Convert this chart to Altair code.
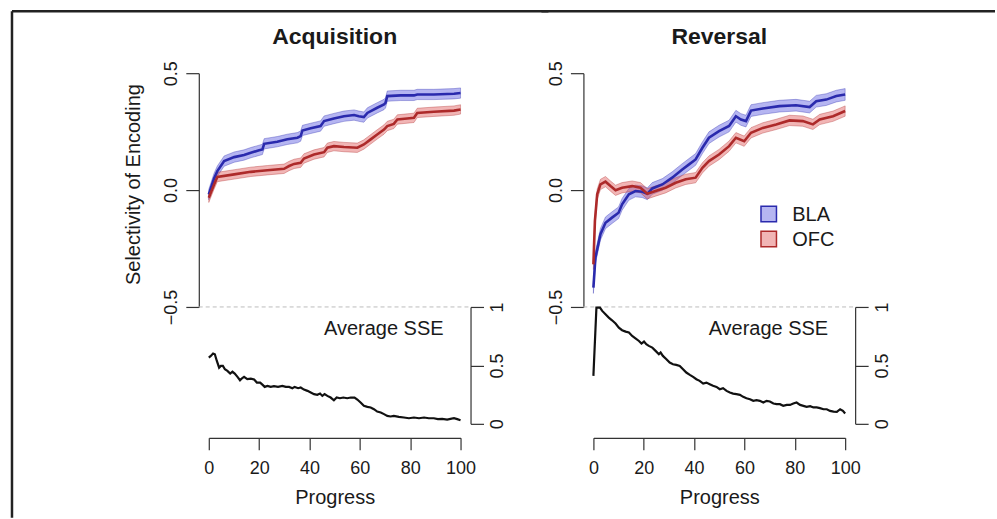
import altair as alt
import pandas as pd

FONT = "Liberation Sans"
AXIS_COLOR = "#333333"
TEXT_COLOR = "#1a1a1a"

REGIONS = ["BLA", "OFC"]
LINE_COLORS = ["#2a2aad", "#ad2a2a"]
BAND_COLORS = ["#5a5ae0", "#e05a5a"]

PANELS = ["Acquisition", "Reversal"]
Y_TITLE = "Selectivity of Encoding"
X_TITLE = "Progress"
SSE_LABEL = "Average SSE"
X_TICKS = [0, 20, 40, 60, 80, 100]
SEL_TICKS = [-0.5, 0.0, 0.5]
SSE_TICKS = [0, 0.5, 1]

# ---- Acquisition: selectivity ----
acq_bla_x = [0, 2.1, 3.4, 6.1, 10.1, 14.0, 16.7, 20.0, 21.3, 22.0, 27.2, 31.2, 35.2, 36.5, 37.2, 40.5, 44.4,
             45.8, 49.7, 53.7, 57.7, 59.6, 61.6, 63.0, 66.9, 69.6, 70.2, 70.9, 76.2, 81.5, 82.8, 89.4, 97.4, 100]
acq_bla_y = [-0.019, 0.05, 0.081, 0.124, 0.141, 0.150, 0.160, 0.170, 0.174, 0.198, 0.207, 0.217, 0.224, 0.231,
             0.255, 0.264, 0.274, 0.295, 0.306, 0.316, 0.321, 0.316, 0.312, 0.330, 0.352, 0.366, 0.373, 0.402,
             0.405, 0.405, 0.409, 0.409, 0.412, 0.415]
acq_bla_se = 0.022
acq_ofc_x = [0, 2.1, 3.4, 10.1, 16.7, 23.3, 29.9, 31.9, 33.9, 36.5, 37.8, 41.8, 45.8, 47.1, 49.7, 53.7, 59.0,
             61.6, 64.3, 66.9, 69.6, 70.9, 73.5, 74.9, 78.8, 81.5, 82.8, 89.4, 97.4, 100]
acq_ofc_y = [-0.033, 0.024, 0.056, 0.067, 0.078, 0.085, 0.091, 0.103, 0.112, 0.117, 0.135, 0.152, 0.162, 0.181,
             0.188, 0.184, 0.181, 0.195, 0.217, 0.238, 0.259, 0.274, 0.283, 0.302, 0.306, 0.309, 0.330, 0.335,
             0.340, 0.345]
acq_ofc_se = 0.02

# ---- Reversal: selectivity ----
rev_bla_x = [0, 0.8, 2.8, 4.8, 7.4, 10.0, 11.4, 14.1, 16.7, 19.4, 21.4, 23.4, 27.4, 31.3, 35.3, 38.0, 40.6,
             43.3, 45.9, 49.9, 53.9, 56.6, 58.6, 60.6, 62.6, 67.3, 73.9, 80.5, 85.9, 88.5, 92.5, 96.5, 100]
rev_bla_y = [-0.417, -0.289, -0.189, -0.140, -0.118, -0.097, -0.061, -0.018, -0.004, -0.007, -0.016, 0.007,
             0.024, 0.053, 0.088, 0.110, 0.131, 0.181, 0.224, 0.252, 0.274, 0.316, 0.302, 0.295, 0.340, 0.349,
             0.359, 0.363, 0.355, 0.380, 0.387, 0.402, 0.409]
rev_bla_se = 0.025
rev_ofc_x = [0, 0.6, 1.5, 2.8, 4.8, 6.8, 8.8, 11.4, 15.4, 18.7, 21.4, 24.7, 28.7, 32.7, 36.7, 40.6, 43.3, 45.9,
             49.9, 53.9, 56.6, 59.9, 62.6, 67.3, 72.6, 77.9, 83.2, 87.2, 89.9, 95.2, 100]
rev_ofc_y = [-0.318, -0.132, -0.018, 0.024, 0.036, 0.017, -0.001, 0.010, 0.017, 0.010, -0.016, -0.004, 0.010,
             0.031, 0.046, 0.053, 0.095, 0.124, 0.152, 0.188, 0.224, 0.209, 0.245, 0.266, 0.281, 0.298, 0.295,
             0.281, 0.302, 0.316, 0.338]
rev_ofc_se = 0.022

# ---- Average SSE ----
acq_sse_x = [0, 0.8, 1.7, 2.4, 3.2, 4.1, 4.8, 5.6, 6.4, 7.4, 8.5, 9.4, 10.3, 11.4, 12.4, 13.2, 14.0, 15.3, 16.7,
             18.0, 19.1, 20.4, 21.4, 22.2, 23.3, 24.6, 25.9, 27.5, 29.2, 30.6, 31.9, 33.2, 34.1, 35.5, 36.5, 37.8,
             39.2, 40.5, 41.8, 43.1, 44.2, 45.1, 46.0, 47.1, 48.4, 49.7, 50.8, 52.1, 53.4, 55.0, 56.4, 57.9, 59.0,
             60.3, 61.6, 63.0, 64.3, 65.6, 66.9, 68.3, 69.6, 70.9, 72.2, 73.5, 75.5, 77.5, 79.5, 81.5, 83.5, 85.5,
             87.4, 89.4, 91.0, 92.7, 94.7, 96.0, 97.4, 98.7, 100]
acq_sse_y = [0.567, 0.581, 0.601, 0.595, 0.538, 0.481, 0.496, 0.496, 0.467, 0.453, 0.430, 0.447, 0.430, 0.402,
             0.373, 0.390, 0.402, 0.382, 0.387, 0.379, 0.353, 0.353, 0.333, 0.316, 0.325, 0.316, 0.322, 0.316,
             0.325, 0.316, 0.316, 0.305, 0.316, 0.305, 0.311, 0.293, 0.282, 0.268, 0.254, 0.248, 0.259, 0.239,
             0.254, 0.239, 0.225, 0.202, 0.225, 0.219, 0.225, 0.219, 0.225, 0.225, 0.208, 0.182, 0.154, 0.145,
             0.140, 0.125, 0.105, 0.097, 0.083, 0.068, 0.063, 0.068, 0.060, 0.054, 0.048, 0.054, 0.048, 0.054,
             0.048, 0.048, 0.040, 0.043, 0.037, 0.043, 0.048, 0.040, 0.031]
rev_sse_x = [0, 1.2, 2.6, 3.5, 4.8, 6.1, 7.4, 8.8, 10.1, 11.4, 12.8, 14.1, 15.4, 16.7, 18.1, 19.1, 20.1, 21.0,
             22.0, 23.4, 24.7, 26.0, 26.7, 27.6, 29.0, 30.3, 31.6, 32.9, 34.3, 35.6, 36.9, 38.3, 39.6, 40.9, 42.2,
             43.6, 44.9, 46.2, 47.5, 48.9, 50.2, 51.5, 52.9, 54.2, 55.5, 56.8, 58.2, 59.5, 60.8, 62.2, 63.5, 64.8,
             66.1, 67.5, 68.8, 70.1, 71.5, 72.8, 74.1, 75.4, 76.8, 78.1, 79.4, 80.7, 82.1, 83.4, 84.7, 86.1, 87.4,
             88.7, 90.0, 91.4, 92.7, 94.0, 95.4, 96.7, 98.0, 99.1, 100]
rev_sse_y = [0.410, 0.995, 0.995, 0.966, 0.937, 0.909, 0.886, 0.858, 0.823, 0.801, 0.789, 0.781, 0.752, 0.732,
             0.709, 0.687, 0.704, 0.681, 0.667, 0.652, 0.624, 0.595, 0.610, 0.581, 0.553, 0.524, 0.510, 0.504,
             0.496, 0.467, 0.439, 0.419, 0.402, 0.382, 0.368, 0.345, 0.353, 0.339, 0.325, 0.316, 0.296, 0.305,
             0.282, 0.268, 0.259, 0.254, 0.248, 0.231, 0.219, 0.211, 0.197, 0.202, 0.197, 0.182, 0.197, 0.191,
             0.174, 0.168, 0.168, 0.154, 0.162, 0.162, 0.174, 0.182, 0.162, 0.154, 0.145, 0.151, 0.140, 0.140,
             0.134, 0.125, 0.125, 0.111, 0.105, 0.103, 0.125, 0.111, 0.088]

PLOT_W = 252
TOP_H = 234
BOT_H = 117
FULL_H = TOP_H + BOT_H

x_scale = alt.Scale(domain=[0, 100], nice=False, zero=False)
sel_scale = alt.Scale(domain=[-0.5, 0.5], nice=False, zero=False, range=[TOP_H, 0])
sse_scale = alt.Scale(domain=[0, 1], nice=False, zero=False, range=[FULL_H, TOP_H])
fill_scale = alt.Scale(domain=REGIONS, range=BAND_COLORS)
stroke_scale = alt.Scale(domain=REGIONS, range=LINE_COLORS)

AX_COMMON = dict(grid=False, domainColor=AXIS_COLOR, tickColor=AXIS_COLOR, domainWidth=1.2, tickWidth=1.2,
                 labelFontSize=18, labelColor=TEXT_COLOR, labelFont=FONT, titleFont=FONT,
                 titleFontSize=20, titleFontWeight="normal", titleColor=TEXT_COLOR, labelFlush=False,
                 labelOverlap=False)

X_AXIS = alt.Axis(**dict(AX_COMMON, values=X_TICKS, format="d", offset=14, tickSize=12, labelPadding=10,
                         title=X_TITLE, titlePadding=10))
SSE_AXIS = alt.Axis(**dict(AX_COMMON, orient="right", values=SSE_TICKS, format="~g", labelAngle=270, offset=10,
                           tickSize=13, labelPadding=5, title=None))


def sel_axis(with_title):
    kw = dict(AX_COMMON, orient="left", values=SEL_TICKS, format=".1f", labelAngle=270, offset=10,
              tickSize=13, labelPadding=5)
    if with_title:
        kw.update(title=Y_TITLE, titlePadding=19, titleY=111)
    else:
        kw.update(title=None)
    return alt.Axis(**kw)


def sel_frame(bx, by, bse, ox, oy, ose):
    rows = [{"region": "BLA", "progress": x, "sel": y, "se": bse} for x, y in zip(bx, by)]
    rows += [{"region": "OFC", "progress": x, "sel": y, "se": ose} for x, y in zip(ox, oy)]
    return pd.DataFrame(rows)


def panel(sel_df, sse_x, sse_y, title, with_ytitle, with_legend, frame_x1, frame_x2, with_left_frame):
    ax = sel_axis(with_ytitle)
    xenc = alt.X("progress:Q", scale=x_scale, axis=X_AXIS, title=X_TITLE)
    base = alt.Chart(sel_df)
    band = base.transform_calculate(lo="datum.sel - datum.se", hi="datum.sel + datum.se").mark_area(
        fillOpacity=0.45, strokeOpacity=0.35, strokeWidth=1
    ).encode(
        x=xenc,
        y=alt.Y("lo:Q", scale=sel_scale, axis=ax),
        y2="hi:Q",
        fill=alt.Fill("region:N", scale=fill_scale, legend=None),
        stroke=alt.Stroke("region:N", scale=stroke_scale, legend=None),
    )
    line = base.mark_line(strokeWidth=2.6).encode(
        x=xenc,
        y=alt.Y("sel:Q", scale=sel_scale, axis=ax),
        stroke=alt.Stroke("region:N", scale=stroke_scale, legend=None),
    )
    sel_layer = alt.layer(band, line)

    sse_df = pd.DataFrame({"progress": sse_x, "sse": sse_y})
    dash = alt.Chart(pd.DataFrame({"progress": [-4], "x1": [104], "sse": [1]})).mark_rule(
        strokeDash=[4, 3], color="#bdbdbd", strokeWidth=1
    ).encode(x=xenc, x2="x1:Q", y=alt.Y("sse:Q", scale=sse_scale, axis=SSE_AXIS))
    sse_line = alt.Chart(sse_df).mark_line(color="#111111", strokeWidth=2.2).encode(
        x=xenc, y=alt.Y("sse:Q", scale=sse_scale, axis=SSE_AXIS))
    sse_layer = alt.layer(dash, sse_line)

    deco = []
    ttl = alt.Chart(pd.DataFrame({"t": [title]})).mark_text(
        align="center", baseline="middle", fontSize=23, fontWeight="bold", font=FONT, color=TEXT_COLOR
    ).encode(text="t:N", x=alt.value(PLOT_W / 2), y=alt.value(-36))
    deco.append(ttl)
    label = alt.Chart(pd.DataFrame({"t": [SSE_LABEL]})).mark_text(
        align="right", baseline="middle", fontSize=20, font=FONT, color=TEXT_COLOR
    ).encode(text="t:N", x=alt.value(235), y=alt.value(TOP_H + 22))
    deco.append(label)
    if with_legend:
        for i, r in enumerate(REGIONS):
            one = alt.Chart(pd.DataFrame({"region": [r]}))
            deco.append(one.mark_square(size=240, fillOpacity=0.45, strokeWidth=1.5).encode(
                fill=alt.Fill("region:N", scale=fill_scale, legend=None),
                stroke=alt.Stroke("region:N", scale=stroke_scale, legend=None),
                x=alt.value(175.5), y=alt.value(141 + 25 * i)))
            deco.append(one.mark_text(align="left", baseline="middle", fontSize=20, font=FONT,
                                      color=TEXT_COLOR).encode(
                text="region:N", x=alt.value(199), y=alt.value(142 + 25 * i)))
    frm = alt.Chart(pd.DataFrame({"k": [0]}))
    deco.append(frm.mark_rule(color="#222222", strokeWidth=2.5).encode(
        x=alt.value(frame_x1), x2=alt.value(frame_x2), y=alt.value(-62)))
    if with_left_frame:
        deco.append(frm.mark_rule(color="#222222", strokeWidth=2.5).encode(
            x=alt.value(frame_x1), y=alt.value(-62), y2=alt.value(445)))

    return alt.layer(sel_layer, sse_layer, *deco).resolve_scale(y="independent").properties(
        width=PLOT_W, height=FULL_H)


acq = panel(sel_frame(acq_bla_x, acq_bla_y, acq_bla_se, acq_ofc_x, acq_ofc_y, acq_ofc_se),
            acq_sse_x, acq_sse_y, PANELS[0], True, False, -197, 340, True)
rev = panel(sel_frame(rev_bla_x, rev_bla_y, rev_bla_se, rev_ofc_x, rev_ofc_y, rev_ofc_se),
            rev_sse_x, rev_sse_y, PANELS[1], False, True, -52, 402, False)

chart = alt.hconcat(acq, rev, spacing=-11).properties(
    padding={"left": 10, "top": 9, "right": 0, "bottom": 0},
    background="white",
).configure_view(stroke=None)

chart.save("out.html", embed_options={"renderer": "svg", "actions": False})
